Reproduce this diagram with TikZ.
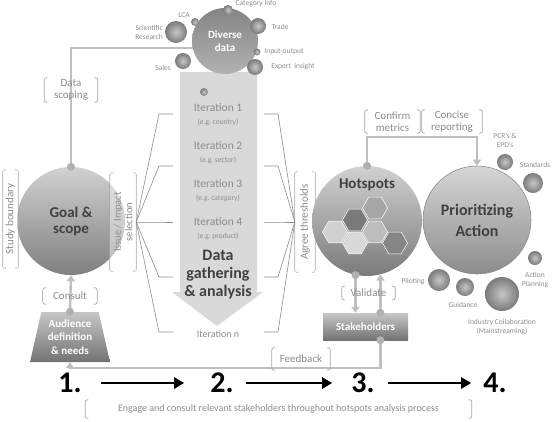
\documentclass[tikz,border=0pt]{standalone}
\usepackage{fontspec}
\setmainfont{Carlito}
\usetikzlibrary{arrows.meta,calc,shapes.geometric}
\definecolor{ink}{HTML}{404040}
\definecolor{txt}{HTML}{8C8C8C}
\definecolor{brkc}{HTML}{A6A6A6}
\definecolor{flowc}{HTML}{BFBFBF}
\definecolor{dotc}{HTML}{B0B0B0}
\definecolor{wire}{HTML}{8C8C8C}
\definecolor{iter}{HTML}{D9D9D9}

\begin{document}
\begin{tikzpicture}[x=1pt, y=-1pt,
  brk/.style={text=txt, align=center, inner sep=0pt, font=\fontsize{11}{12}\selectfont,
    append after command={\pgfextra{\draw[draw=brkc, line width=.7pt, rounded corners=2pt]
      ($(\tikzlastnode.north west)!3pt!(\tikzlastnode.north east)$) -- (\tikzlastnode.north west)
      -- (\tikzlastnode.south west) -- ($(\tikzlastnode.south west)!3pt!(\tikzlastnode.south east)$)
      ($(\tikzlastnode.north east)!3pt!(\tikzlastnode.north west)$) -- (\tikzlastnode.north east)
      -- (\tikzlastnode.south east) -- ($(\tikzlastnode.south east)!3pt!(\tikzlastnode.south west)$);}}},
  vbrk/.style={text=txt, align=center, inner sep=0pt, rotate=90, font=\fontsize{11}{12}\selectfont,
    fill=white, fill opacity=.45, text opacity=1,
    append after command={\pgfextra{\draw[draw=brkc, line width=.7pt, rounded corners=2pt]
      ($(\tikzlastnode.north west)!3pt!(\tikzlastnode.south west)$) -- (\tikzlastnode.north west)
      -- (\tikzlastnode.north east) -- ($(\tikzlastnode.north east)!3pt!(\tikzlastnode.south east)$)
      ($(\tikzlastnode.south west)!3pt!(\tikzlastnode.north west)$) -- (\tikzlastnode.south west)
      -- (\tikzlastnode.south east) -- ($(\tikzlastnode.south east)!3pt!(\tikzlastnode.north east)$);}}},
  bigc/.style={circle, inner sep=0pt, text=ink, align=center, font=\bfseries\fontsize{15}{16}\selectfont},
  bub/.style={circle, inner sep=0pt, inner color=black!22, outer color=black!52, minimum size=2*#1},
  lbl/.style={text=txt, align=center, inner sep=0pt, font=\fontsize{7.5}{9}\selectfont},
  iterl/.style={text=txt, inner sep=0pt, font=\fontsize{11.5}{13}\selectfont},
  egl/.style={text=txt, inner sep=0pt, font=\fontsize{7.5}{9}\selectfont},
  hexa/.style={regular polygon, regular polygon sides=6, minimum size=25,
    inner sep=0pt, draw=white, line width=.5pt},
  wbox/.style={text=white, align=center, font=\bfseries\fontsize{11}{13.5}\selectfont, top color=black!22, bottom color=black!55},
  flow/.style={draw=flowc, line width=2.4pt, -{Triangle[length=6pt, width=8pt]}},
  wireline/.style={draw=wire, line width=.6pt},
  num/.style={inner sep=0pt, font=\bfseries\fontsize{30}{30}\selectfont},
  stage/.style={line width=2.8pt, -{Triangle[length=10pt, width=11pt]}}
]
  \useasboundingbox (0,0) rectangle (553,421);

  % iteration arrow
  \fill[iter] (180,72) -- (257,72) -- (257,292) -- (263,292) -- (217,326) -- (172,292) -- (180,292) -- cycle;
  \foreach \s [count=\i] in {country,sector,category,product}{
    \node[iterl] (it\i) at (218,70+38*\i) {Iteration \i};
    \node[egl] (eg\i) at (218,84+38*\i) {(e.g.~\s)};
  }
  \node[text=ink, align=center, inner sep=0pt, font=\bfseries\fontsize{16}{18}\selectfont] (gather) at (218,275) {Data\\gathering\\\& analysis};
  \node[iterl, font=\fontsize{10}{12}\selectfont] (itn) at (218,334) {Iteration n};
  \node[bub=4] (spot) at (204,92) {};

  % goal and scope
  \node[bigc, top color=black!18, bottom color=black!50, minimum size=108] (goal) at (71,221) {Goal \&\\scope};
  \node[vbrk, minimum width=98, minimum height=15] (study) at (10.5,219) {Study boundary};
  \node[vbrk, minimum width=98, minimum height=26, font=\fontsize{10.5}{11.5}\selectfont] (issue) at (123,222) {Issue / Impact\\selection};
  \node[vbrk, minimum width=100, minimum height=20] (thr) at (305,222) {Agree thresholds};

  \foreach \y [count=\i] in {114,166,222,277,332}{
    \coordinate (il\i) at (173,\y);
    \coordinate (ir\i) at (264,\y);
    \draw[wireline] (issue.south) -- ([xshift=-14pt]il\i) -- (il\i);
    \draw[wireline] (ir\i) -- ([xshift=14pt]ir\i) -- (thr.north);
  }

  % diverse data
  \draw[flow] (goal.north) |- (225,48) -- (192,48);
  \fill[dotc] (goal.north) circle (4);
  \node[brk, minimum width=53, minimum height=24] (scope) at (71,90) {Data\\scoping};
  \node[circle, inner sep=0pt, top color=black!48, bottom color=black!30, minimum size=66, text=white, align=center,
    font=\bfseries\fontsize{11}{13}\selectfont] (data) at (225,41) {Diverse\\data};
  \node[bub=11] (sci) at (176,32) {};
  \node[lbl, anchor=east, align=right] (scil) at (163,32) {Scientific\\Research};
  \node[bub=4] (lca) at (195,22) {};
  \node[lbl] (lcal) at (184,15) {LCA};
  \node[bub=5] (cat) at (228,10) {};
  \node[lbl] (catl) at (256,4) {Category info};
  \node[bub=8] (trade) at (258,26) {};
  \node[lbl] (tradel) at (280,27) {Trade};
  \node[bub=3.5] (io) at (257,52) {};
  \node[lbl] (iol) at (284,52) {Input-output};
  \node[bub=8] (exp) at (255,67) {};
  \node[lbl] (expl) at (293,67) {Expert~ insight};
  \node[bub=8] (sales) at (183,61) {};
  \node[lbl] (salesl) at (163,68) {Sales};

  % audience
  \node[trapezium, trapezium left angle=76, trapezium right angle=76, trapezium stretches=true,
    minimum width=80, minimum height=50, inner sep=0pt, wbox] (aud) at (70,337) {Audience\\definition\\\& needs};
  \draw[flow] (aud.north) -- (goal.south);
  \fill[dotc] (aud.north) circle (4);
  \node[brk, minimum width=54, minimum height=16] (consult) at (70,296) {Consult};

  % hotspots
  \node[bigc, top color=black!18, bottom color=black!52, minimum size=110] (hot) at (367,221) {};
  \node[bigc] (hottl) at (367,185) {Hotspots};
  \foreach \x/\y/\c [count=\i] in {375/208/35, 355/220/52, 335/232/18, 375/232/26, 355/243/15, 395/243/48}
    \node[hexa, fill=black!\c] (hex\i) at (\x,\y) {};

  % prioritizing
  \node[bigc, draw=black!45, line width=.6pt, top color=black!16, bottom color=black!45, minimum size=108,
    font=\bfseries\fontsize{16}{21}\selectfont] (pri) at (477,220) {Prioritizing\\Action};
  \draw[flow] (hot.north) -- ++(0,-29) -| (pri.north);
  \fill[dotc] (hot.north) circle (4);
  \node[brk, minimum width=55, minimum height=23] (confirm) at (392.5,121.5) {Confirm\\metrics};
  \node[brk, minimum width=60, minimum height=23] (concise) at (452,121.5) {Concise\\reporting};

  \node[bub=8] (pcr) at (505,162) {};
  \node[lbl] (pcrl) at (505,140) {PCR's \&\\EPD's};
  \node[bub=10] (std) at (533,183) {};
  \node[lbl] (stdl) at (535,165) {Standards};
  \node[bub=7] (plan) at (535,258) {};
  \node[lbl] (planl) at (535,280) {Action\\Planning};
  \node[bub=17] (ind) at (502,294) {};
  \node[lbl] (indl) at (502,327) {Industry Collaboration\\(Mainstreaming)};
  \node[bub=9] (guide) at (465,287) {};
  \node[lbl] (guidel) at (463,305) {Guidance};
  \node[bub=11] (pilot) at (439,280) {};
  \node[lbl] (pilotl) at (413,282) {Piloting};

  % stakeholders
  \node[wbox, minimum width=85, minimum height=27, inner sep=0pt] (stake) at (365.5,326.5) {Stakeholders};
  \draw[flow] (hot.258) -- (hot.258 |- stake.north);
  \draw[flow] (stake.north -| hot.284) -- (hot.284);
  \fill[dotc] (hot.258) circle (4);
  \fill[dotc] (stake.north -| hot.284) circle (4);
  \node[brk, minimum width=53, minimum height=13] (valid) at (368.5,293) {Validate};

  \draw[flow] (stake.south -| hot.284) |- ([yshift=-6pt]aud.south) -- (aud.south);
  \fill[dotc] (stake.south -| hot.284) circle (4);
  \node[brk, minimum width=58, minimum height=22] (feedb) at (301,359) {Feedback};

  % stages
  \node[num] (n1) at (70,383) {1.};
  \node[num] (n2) at (222,383) {2.};
  \node[num] (n3) at (363,383) {3.};
  \node[num] (n4) at (495,383) {4.};
  \foreach \a/\b/\s/\e in {n1/n2/19/26, n2/n3/12/19, n3/n4/13/12}
    \draw[stage, shorten <=\s pt, shorten >=\e pt] (\a.east) -- (\b.west);
  \node[brk, minimum width=386, minimum height=18, font=\fontsize{10}{12}\selectfont] (engage) at (278.5,409)
    {Engage and consult relevant stakeholders throughout hotspots analysis process};
\end{tikzpicture}
\end{document}
